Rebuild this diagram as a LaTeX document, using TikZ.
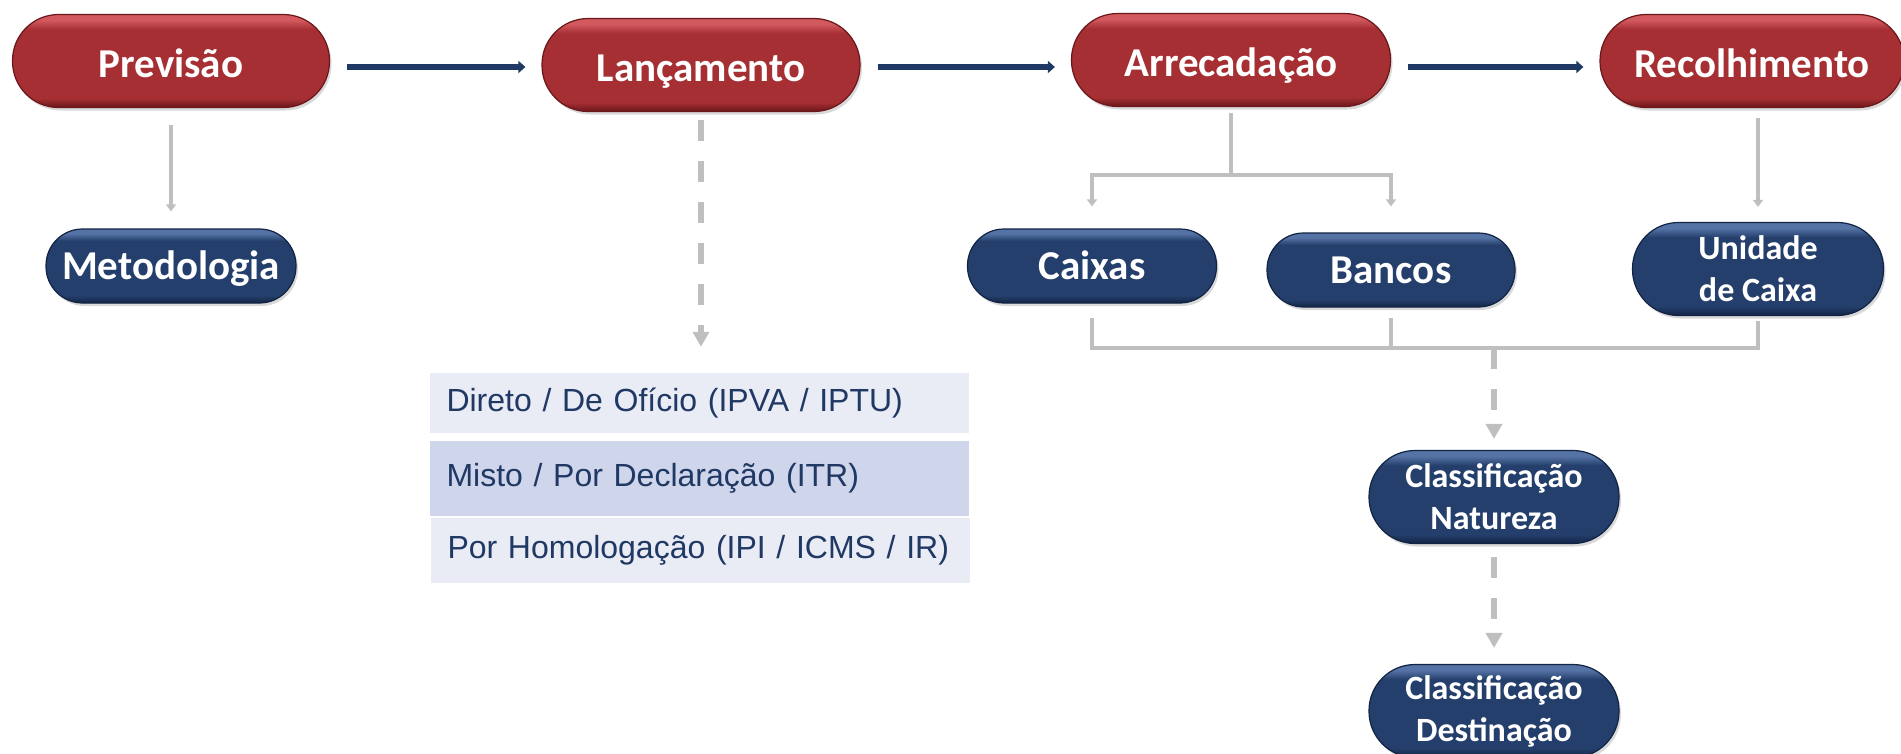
\documentclass[tikz,border=0pt]{standalone}
\usepackage{fontspec}
\setmainfont{Carlito}
\newfontfamily\listfont{Liberation Sans}
\usetikzlibrary{arrows.meta,shadows}

\definecolor{pillred}{HTML}{A52F33}
\definecolor{pillredtop}{HTML}{D2595D}
\definecolor{pillredbot}{HTML}{6A171B}
\definecolor{pillblue}{HTML}{243F6C}
\definecolor{pillbluetop}{HTML}{5573A5}
\definecolor{pillbluebot}{HTML}{122444}
\definecolor{arrownavy}{HTML}{1F3864}
\definecolor{linegray}{HTML}{BFBFBF}
\definecolor{listlight}{HTML}{E9EBF5}
\definecolor{listdark}{HTML}{CFD5EA}
\definecolor{listtext}{HTML}{203864}

\pgfdeclareverticalshading{redpillshade}{100bp}{color(0bp)=(pillredbot); color(25bp)=(pillredbot); color(30bp)=(pillred); color(67bp)=(pillred); color(72bp)=(pillredtop); color(75bp)=(pillredtop); color(100bp)=(pillredtop)}
\pgfdeclareverticalshading{bluepillshade}{100bp}{color(0bp)=(pillbluebot); color(25bp)=(pillbluebot); color(30bp)=(pillblue); color(67bp)=(pillblue); color(72bp)=(pillbluetop); color(75bp)=(pillbluetop); color(100bp)=(pillbluetop)}

\begin{document}
\begin{tikzpicture}[x=1pt, y=-1pt,
  pill/.style={rectangle, text=white, align=center, inner sep=0pt, line width=1.2pt,
    font=\fontsize{41}{44}\selectfont\bfseries,
    drop shadow={shadow xshift=2pt, shadow yshift=-3pt, opacity=0.3}},
  redpill/.style={pill, shade, shading=redpillshade, draw=pillredbot, minimum height=93pt, rounded corners=46pt,
    text height=33pt, text depth=0pt},
  bluepill/.style={pill, shade, shading=bluepillshade, draw=pillbluebot, minimum height=74pt, rounded corners=36.5pt},
  onepill/.style={text height=27pt, text depth=0pt},
  tallpill/.style={minimum height=93pt, rounded corners=46pt, font=\fontsize{34}{42}\selectfont\bfseries},
  listbox/.style={rectangle, text=listtext, text width=505pt, align=left, inner xsep=17pt, inner ysep=0pt,
    font=\listfont\fontsize{32}{36}\selectfont},
  navyarrow/.style={draw=arrownavy, line width=5.5pt, -{Triangle[length=7pt, width=12pt]}, shorten <=17pt, shorten >=16pt},
  grayline/.style={draw=linegray, line width=4pt},
  grayarrow/.style={grayline, -{Triangle[length=7pt, width=10pt]}},
  dasharrow/.style={draw=linegray, line width=6pt, dash pattern=on 21pt off 20pt, -{Triangle[length=15pt, width=16pt]}}]
\useasboundingbox (0, 0) rectangle (1901, 753);
\draw (171, 61) node[redpill, minimum width=317pt] (prev) {Previsão};
\draw (701, 65) node[redpill, minimum width=318pt] (lanc) {Lançamento};
\draw (1231, 60) node[redpill, minimum width=319pt] (arrec) {Arrecadação};
\draw (1752, 61) node[redpill, minimum width=304pt] (recol) {Recolhimento};
\draw (171, 266) node[bluepill, onepill, minimum width=250pt] (metod) {Metodologia};
\draw (1092, 266) node[bluepill, onepill, minimum width=249pt] (caixas) {Caixas};
\draw (1391, 270) node[bluepill, onepill, minimum width=248pt] (bancos) {Bancos};
\draw (1758, 269) node[bluepill, tallpill, minimum width=251pt] (unid) {Unidade\\de Caixa};
\draw (1494, 497) node[bluepill, tallpill, minimum width=250pt] (natur) {Classificação\\Natureza};
\draw (1494, 711) node[bluepill, tallpill, minimum width=250pt] (dest) {Classificação\\Destinação};
\draw (699, 403) node[listbox, fill=listlight, minimum height=60pt] (box1) {Direto / De Ofício (IPVA / IPTU)};
\draw (699, 478) node[listbox, fill=listdark, minimum height=75pt] (box2) {Misto / Por Declaração (ITR)};
\draw (700, 550) node[listbox, fill=listlight, minimum height=65pt] (box3) {Por Homologação (IPI / ICMS / IR)};
\coordinate (arrowrow) at (0, 67);
\coordinate (arrecsplit) at (1231, 175);
\coordinate (sumjoin) at (1494, 348);
\draw[navyarrow] (prev.east |- arrowrow) -- (lanc.west |- arrowrow);
\draw[navyarrow] (lanc.east |- arrowrow) -- (arrec.west |- arrowrow);
\draw[navyarrow] (arrec.east |- arrowrow) -- (recol.west |- arrowrow);
\draw[grayarrow, shorten <=17pt, shorten >=17pt] (prev) -- (metod);
\draw[dasharrow, shorten <=8pt, shorten >=26pt] (lanc.south) -- (lanc.south |- box1.north);
\draw[grayline, shorten <=6pt] (arrec.south) -- (arrecsplit);
\draw[grayarrow, shorten >=22pt] (arrecsplit) -| (caixas.north);
\draw[grayarrow, shorten >=26pt] (arrecsplit) -| (bancos.north);
\draw[grayarrow, shorten <=10pt, shorten >=15pt] (unid.north |- recol.south) -- (unid.north);
\draw[grayline] ([yshift=-14pt]caixas.south) |- (unid.south |- sumjoin) -- ([yshift=-5pt]unid.south);
\draw[grayline] ([yshift=-10pt]bancos.south) -- (bancos.south |- sumjoin);
\draw[dasharrow, shorten >=11pt] (sumjoin) -- (natur.north);
\draw[dasharrow, shorten <=13pt, shorten >=16pt] (natur) -- (dest);
\end{tikzpicture}
\end{document}
